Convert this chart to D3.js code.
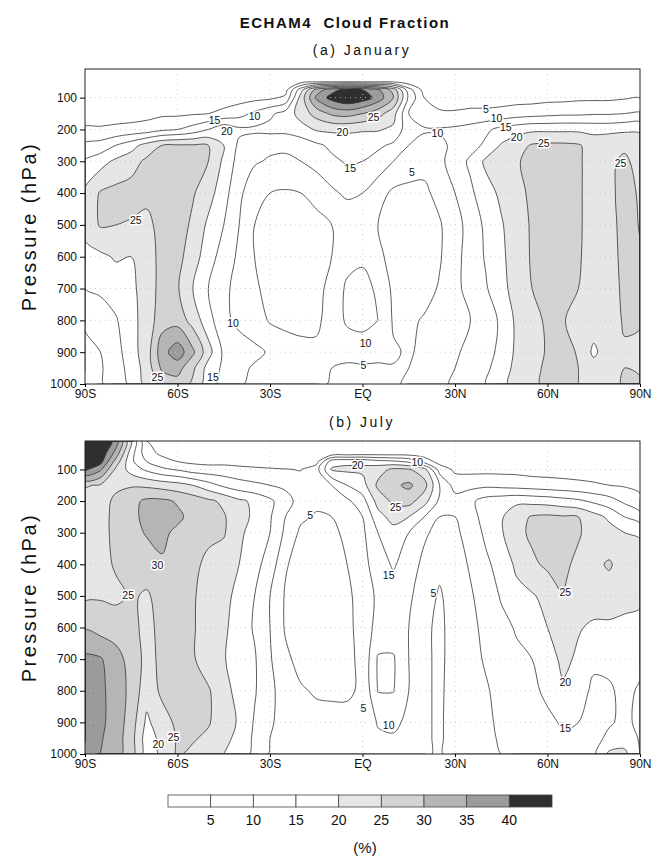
<!DOCTYPE html>
<html>
<head>
<meta charset="utf-8">
<script src="https://cdn.jsdelivr.net/npm/d3@7"></script>
<style>
  body { margin: 0; background: #fff; }
  text { font-family: "Liberation Sans", Arial, sans-serif; fill: #111; }
</style>
</head>
<body>
<svg id="chart" width="659" height="861"></svg>
<script>
// grid: latitude every 5 deg, pressure levels (hPa)
const lats = d3.range(-90, 91, 5);
const levels = [10, 50, 75, 100, 150, 200, 250, 300, 400, 500, 600, 700, 800, 900, 950, 1000];

// cloud fraction (%), one column per latitude (90S -> 90N), values 10 hPa -> 1000 hPa
const janCloud = [
  [1, 1, 1.5, 2, 3, 5.5, 11, 15.5, 21, 21.5, 18.5, 15, 10.5, 9, 8.5, 8],
  [1, 1, 1.5, 2, 3, 5.5, 12, 18, 25.5, 25.5, 19, 16, 12, 10, 9.5, 9.5],
  [1, 1, 1.5, 2, 3, 6, 15, 21, 26.5, 25, 20.5, 17.5, 14.5, 13, 12.5, 12],
  [1, 1, 1.5, 2, 3, 6.5, 18, 23, 27, 24.5, 20, 19, 18.5, 18, 17, 16],
  [1, 1, 1.5, 2, 3.5, 7, 22, 26, 26.5, 23.5, 22, 22, 22, 22.5, 22, 21.5],
  [1, 1, 1.5, 2, 4, 9, 25, 27, 27.5, 27, 27, 27, 28, 33, 31, 26],
  [1, 1, 1.5, 2, 4, 10, 25.5, 27.5, 28, 27.5, 26.5, 25.5, 28, 38, 32, 28],
  [1, 1, 1.5, 2.5, 4.5, 12, 25.5, 27, 25.5, 24, 22.5, 20, 23, 31, 26, 24],
  [1, 1, 1.5, 2.5, 5, 15, 25, 25, 22, 19, 17, 15, 17, 22, 18, 17],
  [1, 1, 1.5, 3, 6, 19, 20, 19, 17, 15, 13, 11, 11, 14, 14, 13],
  [1, 1, 1.5, 3, 8, 16, 14, 13, 11, 10, 9, 8.5, 9, 12, 11, 10.5],
  [1, 1, 1.5, 3.5, 11, 16, 12, 10.5, 7, 5, 5, 5.5, 7.5, 11, 9.5, 9],
  [1, 1, 2, 4, 14, 16.5, 11, 9.5, 5, 4, 4, 4, 4.5, 9.5, 8, 7.5],
  [1, 1.5, 3, 6, 17, 16.5, 11, 9, 4.5, 3.5, 3.5, 3.5, 4, 7, 7, 6.5],
  [1, 3, 18, 22, 22, 18, 12, 10, 5, 3.5, 3.5, 3.5, 4, 6, 6, 6],
  [1, 4.5, 32, 36, 27, 20.5, 14, 12, 6, 4, 4, 4, 4.5, 5.5, 5.5, 5.5],
  [1, 4.5, 38, 42, 31, 21, 16, 14, 9, 5, 5, 6, 6, 5.5, 5, 4.8],
  [1, 4.5, 42, 45, 32, 21, 17, 15.5, 11, 6, 8, 11, 11, 6, 4.5, 4.2],
  [1, 4.5, 40, 43, 30, 20.5, 17, 15, 10, 5.5, 9, 12, 12, 6.5, 4.5, 4],
  [1, 4.5, 36, 38, 27, 20.5, 16, 13, 7, 5, 6, 9, 10, 6, 4.5, 4],
  [1, 4.5, 28, 30, 22, 19, 14, 10, 4, 3.5, 3.5, 4, 4.5, 5.5, 4.8, 4.5],
  [1, 2, 12, 14, 10, 12, 10, 7, 4, 3, 3, 3.5, 4, 4.5, 5, 5.5],
  [1, 1.5, 3, 5, 7, 10.5, 8.5, 6.5, 4, 2.5, 2.5, 3, 5.5, 6, 6.5, 7],
  [1, 1.5, 2, 3.5, 5.5, 10.5, 9, 9, 6.5, 4.5, 4.5, 5.5, 7.5, 7.5, 8, 8.5],
  [1, 1.5, 2, 3, 5.5, 11, 11, 12, 10, 8, 8.5, 8.5, 8.5, 9.5, 10, 11],
  [1, 1.5, 2, 3, 6, 12, 13, 16, 14, 12, 12, 12, 10, 11, 12, 13.5],
  [1, 1.5, 2, 3, 6, 14, 16, 21, 18, 16, 15.5, 14.5, 12, 13, 14, 15],
  [1, 1.5, 2, 3, 6.5, 16.5, 20.5, 23, 21, 19.5, 19, 18.5, 16, 16.5, 17.5, 18.5],
  [1, 1.5, 2, 3, 7.5, 18, 23, 24.5, 23.5, 23, 22.5, 22, 21, 21, 21.5, 22],
  [1, 1.5, 2, 3, 8, 19, 25.5, 26.5, 26, 25.5, 25.5, 25, 24, 23, 23.5, 24],
  [1, 1.5, 2, 3.5, 8.5, 19, 26, 27, 27, 27, 27, 26.5, 25.5, 25.5, 26, 26],
  [1, 1.5, 2, 3.5, 9, 19, 26, 27, 27, 27, 27, 26.5, 25.2, 27, 27, 27],
  [1, 1.5, 2, 4, 9, 19, 25.5, 25.5, 25.5, 25.5, 25.5, 25, 24, 24.5, 25, 25],
  [1, 1.5, 2, 4, 9.5, 18.5, 23, 23.5, 23.5, 23.5, 23, 23, 22.5, 19, 22, 23],
  [1, 1.5, 2, 4, 9.5, 18.5, 24, 24.5, 24, 23.5, 23, 23, 23, 23, 23, 23.5],
  [1, 1.5, 2, 4.5, 10, 19, 24.5, 25.5, 26.5, 26.5, 26.5, 26, 25.5, 24.5, 25, 25.5],
  [1, 1.5, 2, 4.8, 10.5, 19, 23, 24, 24.5, 24.8, 25.2, 25.2, 25.2, 24.5, 24, 26]
];

const julCloud = [
  [48, 46, 44, 41, 25.5, 22, 21.5, 21.5, 22, 24, 29.5, 36, 37, 37, 36, 35],
  [46, 44, 42, 36, 24.5, 23, 23, 23, 23.5, 24.5, 28, 35.5, 36, 36, 35.5, 35],
  [38, 33, 28, 24, 24, 26, 26.5, 26.5, 25.5, 24, 27.5, 32, 33, 33, 32.5, 32],
  [20, 17, 16, 18, 24.5, 28.5, 29, 28, 26.5, 25.5, 26, 28, 28.5, 27.5, 27, 27],
  [5, 7, 10, 14, 24, 31, 31, 30.5, 27, 24.5, 24, 23.5, 22, 19, 17.5, 17],
  [2, 4, 7, 11, 23, 31, 31.5, 31, 29.5, 26.5, 26, 26, 26, 23, 21.5, 21],
  [1.5, 3, 5, 9.5, 22, 29.5, 31, 29, 27, 26, 26, 26, 26.5, 26, 25.5, 25.5],
  [1.5, 2.5, 4, 7.5, 20, 28, 28.5, 27, 26, 25.5, 25.5, 25.5, 25.5, 26, 25.5, 24],
  [1.5, 2.5, 3.5, 7, 17, 26, 27, 26, 24, 23, 22.5, 22.5, 25.5, 25.5, 24, 22],
  [1.5, 2.5, 3.5, 7, 14, 24, 25.5, 25.5, 22.5, 21.5, 21, 20.5, 22, 22, 21, 20],
  [1.5, 2, 3, 6.5, 12, 21, 22, 21, 20, 18.5, 17.5, 16.5, 18, 19.5, 19, 18],
  [1.5, 2, 2.5, 6, 11, 19, 19, 18, 16.5, 15, 14.5, 15.5, 15.5, 14.5, 14, 13.5],
  [1, 2, 2.5, 5.5, 10, 16, 15.5, 15, 13, 10, 10, 10.5, 11, 10.5, 10, 9.5],
  [1, 1.5, 2, 5.2, 9, 12, 10, 9, 5.5, 4.5, 4.5, 6, 8, 8.5, 8.5, 8],
  [1, 1.5, 2, 4.8, 7, 8, 6, 4, 3, 3, 3, 3.5, 5.5, 7, 7, 7],
  [1, 1.5, 3, 8, 7, 6, 4.5, 3.5, 2.5, 2.5, 2.5, 3, 4.5, 6.5, 6.5, 6.5],
  [1, 2, 18, 20.5, 10, 7, 5, 4, 3, 3, 3, 3.5, 4.5, 6, 6, 6],
  [1, 2.5, 19, 21, 15, 9, 7, 6, 5, 4, 4, 4, 4.5, 6, 5.5, 5.5],
  [1, 3, 19, 21, 18, 13, 10, 9, 8, 7, 6.5, 6, 5.5, 5, 5, 5],
  [1, 3, 17, 23, 26, 22, 18, 15, 13, 11, 12, 15.5, 15.2, 10.5, 9, 8.5],
  [1, 3, 16, 26, 29, 26, 22, 18, 15.5, 13, 12.5, 15.5, 15.2, 11, 9.5, 9],
  [1, 3, 14, 25.5, 31, 27, 20, 15, 13, 11, 10, 10, 10, 9, 8.5, 8],
  [1, 2.5, 8, 22, 27, 22, 15, 11, 8.5, 7, 6, 6, 6, 6, 6, 6],
  [1, 1.5, 3, 8, 15, 14, 10, 8, 6, 4.5, 4, 4, 4, 4, 4, 4],
  [1, 1.5, 2, 4, 8, 12, 10, 9, 8, 7, 7, 7, 7.5, 8, 8, 8.5],
  [1, 1.5, 2, 3.5, 8.5, 14, 13, 12, 10.5, 9.5, 9, 8.5, 8, 8, 8, 8],
  [1, 1.5, 2, 3.5, 9, 17, 17, 16, 14, 12, 11, 10.5, 9.5, 9, 9, 9],
  [1, 1.5, 2, 3.5, 8.5, 18, 19.5, 19.5, 17, 15.5, 13.5, 12.5, 11.5, 11, 10.5, 10],
  [1, 1.5, 2, 3.5, 8, 19, 23, 23.5, 21, 18.5, 15.5, 14, 13, 12.5, 12, 12],
  [1, 1.5, 2, 3, 7.5, 18.5, 25.5, 26, 24, 19.5, 17.5, 15, 14, 13.5, 13, 13],
  [1, 1.5, 2, 3, 7, 18, 26, 27, 26, 21.5, 20, 17, 16, 14, 14, 14],
  [1, 1.5, 2, 3, 6.5, 17, 25.5, 26.5, 26, 25, 22, 21.5, 19, 15.5, 14.5, 14.5],
  [1, 1.5, 2, 3, 6, 16, 25, 25.5, 24, 23, 20.5, 19, 17, 15, 14.5, 14.5],
  [1, 1.5, 2, 3, 5.5, 14, 22, 23, 24, 23, 19, 16, 14, 13.5, 13.5, 14],
  [1, 1.5, 2, 3, 5, 12, 19, 22, 25.5, 23, 19, 16, 14.5, 14.5, 16, 21],
  [1, 1.5, 2, 3, 4.5, 9, 15, 20, 23, 22, 18.5, 16.5, 16, 16, 18, 21],
  [1, 1.5, 2, 3, 4, 6, 12, 19.5, 22, 21, 18.5, 16, 14.5, 14, 14.5, 15]
];

const thresholds = [5, 10, 15, 20, 25, 30, 35, 40];
// fill above each threshold
const shades = ["#ffffff", "#ffffff", "#ffffff", "#e6e6e6", "#d3d3d3", "#b5b5b5", "#9b9b9b", "#2f2f2f"];
const barColors = ["#ffffff"].concat(shades);

const latTicks = [-90, -60, -30, 0, 30, 60, 90];
const latNames = ["90S", "60S", "30S", "EQ", "30N", "60N", "90N"];
const presTicks = [100, 200, 300, 400, 500, 600, 700, 800, 900, 1000];

// contour labels: [lat, hPa, text]
const janLabels = [
  [-35, 160, "10"], [-48, 172, "15"], [-44, 205, "20"], [-73.5, 485, "25"],
  [-42, 808, "10"], [-66.5, 978, "25"], [-48.5, 978, "15"],
  [3.6, 161, "25"], [-6.5, 208, "20"], [-4, 321, "15"], [16, 334, "5"],
  [24.3, 211, "10"], [40, 136, "5"], [43.5, 165, "10"], [46.5, 192, "15"],
  [50, 226, "20"], [58.8, 243, "25"], [83.7, 306, "25"],
  [1, 872, "10"], [0.3, 941, "5"]
];
const julLabels = [
  [-66.5, 403, "30"], [-76, 498, "25"], [-17, 245, "5"],
  [-1.6, 87, "20"], [17.8, 78, "10"], [10.7, 220, "25"], [8.5, 436, "15"],
  [23, 493, "5"], [65.8, 489, "25"], [65.8, 774, "20"], [65.8, 920, "15"],
  [0.3, 857, "5"], [8.5, 910, "10"], [-61.3, 948, "25"], [-66.2, 968, "20"]
];

const svg = d3.select("#chart");
const xScale = d3.scaleLinear().domain([-90, 90]).range([85, 640]);

svg.append("text").attr("x", 345).attr("y", 28).attr("text-anchor", "middle")
  .style("font-size", "15px").style("font-weight", "bold").style("letter-spacing", "1.5px")
  .style("white-space", "pre").text("ECHAM4  Cloud Fraction");

const smooth = d3.line().curve(d3.curveCatmullRomClosed.alpha(0.5));

function drawPanel(id, data, labels, top, bottom, caption) {
  const yScale = d3.scaleLinear().domain([10, 1000]).range([top, bottom]);
  const n = lats.length, m = levels.length;
  const values = [];
  for (let j = 0; j < m; j++) for (let i = 0; i < n; i++) values.push(data[i][j]);
  const contours = d3.contours().size([n, m]).thresholds(thresholds)(values);

  function project(pt) {
    const fi = Math.max(0, Math.min(n - 1, pt[0] - 0.5));
    const fj = Math.max(0, Math.min(m - 1, pt[1] - 0.5));
    const i0 = Math.min(n - 2, Math.floor(fi)), j0 = Math.min(m - 2, Math.floor(fj));
    const lat = lats[i0] + (lats[i0 + 1] - lats[i0]) * (fi - i0);
    const p = levels[j0] + (levels[j0 + 1] - levels[j0]) * (fj - j0);
    return [xScale(lat), yScale(p)];
  }
  function ringPath(ring) {
    const pts = [];
    ring.slice(0, -1).map(project).forEach(q => {
      const last = pts[pts.length - 1];
      if (!last || Math.abs(last[0] - q[0]) > 0.05 || Math.abs(last[1] - q[1]) > 0.05) pts.push(q);
    });
    if (pts.length < 3) return "";
    return smooth(pts);
  }
  function pathOf(geom) {
    return geom.coordinates.map(poly => poly.map(ringPath).join("")).join("");
  }

  svg.append("text").attr("x", 362).attr("y", top - 14).attr("text-anchor", "middle")
    .style("font-size", "14px").style("letter-spacing", "2.5px").style("white-space", "pre")
    .text(caption);

  svg.append("clipPath").attr("id", "clip" + id).append("rect")
    .attr("x", 85).attr("y", top).attr("width", 555).attr("height", bottom - top);

  const g = svg.append("g").attr("clip-path", "url(#clip" + id + ")");

  g.selectAll("path.fill").data(contours).enter().append("path")
    .attr("class", "fill")
    .attr("d", pathOf)
    .attr("fill-rule", "evenodd")
    .attr("fill", (d, i) => shades[i]);

  // faint dotted grid
  g.selectAll("line.hgrid").data(presTicks.slice(0, -1)).enter().append("line")
    .attr("x1", 85).attr("x2", 640).attr("y1", d => yScale(d)).attr("y2", d => yScale(d))
    .attr("stroke", "#c4c4c4").attr("stroke-width", 0.8).attr("stroke-dasharray", "1,4");
  g.selectAll("line.vgrid").data(latTicks.slice(1, -1)).enter().append("line")
    .attr("y1", top).attr("y2", bottom).attr("x1", d => xScale(d)).attr("x2", d => xScale(d))
    .attr("stroke", "#c4c4c4").attr("stroke-width", 0.8).attr("stroke-dasharray", "1,4");

  g.selectAll("path.line").data(contours).enter().append("path")
    .attr("class", "line")
    .attr("d", pathOf)
    .attr("fill", "none")
    .attr("stroke", "#333")
    .attr("stroke-width", 0.8)
    .attr("stroke-linejoin", "round");

  g.selectAll("text.clab").data(labels).enter().append("text")
    .attr("class", "clab")
    .attr("x", d => xScale(d[0])).attr("y", d => yScale(d[1]))
    .attr("dy", "0.35em").attr("text-anchor", "middle")
    .style("font-size", "10.5px")
    .attr("stroke", "#fff").attr("stroke-width", 3).attr("paint-order", "stroke")
    .text(d => d[2]);

  svg.append("rect").attr("x", 85).attr("y", top).attr("width", 555).attr("height", bottom - top)
    .attr("fill", "none").attr("stroke", "#222").attr("stroke-width", 1);

  const yAxis = svg.append("g").attr("transform", "translate(85,0)")
    .call(d3.axisLeft(yScale).tickValues(presTicks).tickFormat(d3.format("d")).tickSize(5).tickPadding(3));
  yAxis.select(".domain").remove();
  yAxis.selectAll("text").style("font-size", "12px").style("font-family", "Liberation Sans, Arial, sans-serif");

  const xAxis = svg.append("g").attr("transform", "translate(0," + bottom + ")")
    .call(d3.axisBottom(xScale).tickValues(latTicks).tickFormat((d, i) => latNames[i]).tickSize(3).tickPadding(2));
  xAxis.select(".domain").remove();
  xAxis.selectAll("text").style("font-size", "12px").style("font-family", "Liberation Sans, Arial, sans-serif");

  const mid = (top + bottom) / 2;
  svg.append("text").attr("transform", "translate(36," + mid + ") rotate(-90)")
    .attr("text-anchor", "middle")
    .style("font-size", "20px").style("letter-spacing", "2.5px").style("white-space", "pre")
    .text("Pressure (hPa)");
}

drawPanel("a", janCloud, janLabels, 69, 384, "(a) January");
drawPanel("b", julCloud, julLabels, 441, 754, "(b) July");

// colour bar
const barX = d3.scaleLinear().domain([0, 9]).range([168, 552]);
const bar = svg.append("g");
bar.selectAll("rect").data(barColors).enter().append("rect")
  .attr("x", (d, i) => barX(i)).attr("y", 795)
  .attr("width", barX(1) - barX(0)).attr("height", 12)
  .attr("fill", d => d).attr("stroke", "#444").attr("stroke-width", 0.8);
bar.selectAll("text").data(thresholds).enter().append("text")
  .attr("x", (d, i) => barX(i + 1)).attr("y", 825)
  .attr("text-anchor", "middle").style("font-size", "14px")
  .text(d => d);
svg.append("text").attr("x", 365).attr("y", 853).attr("text-anchor", "middle")
  .style("font-size", "15px").text("(%)");
</script>
</body>
</html>
